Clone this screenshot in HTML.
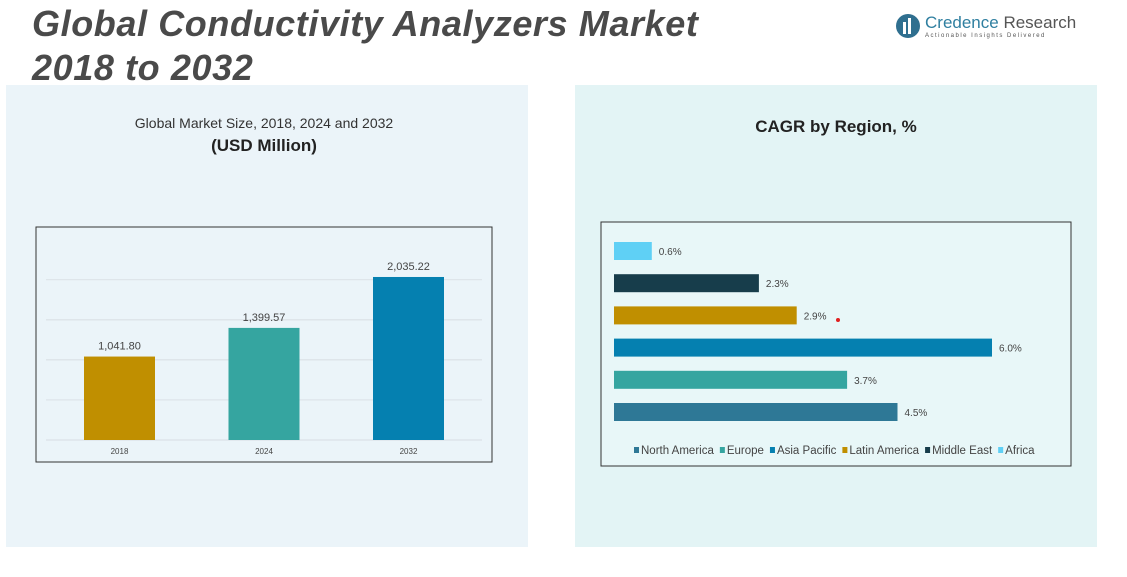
<!DOCTYPE html>
<html><head><meta charset="utf-8"><style>
body{margin:0;width:1127px;height:577px;background:#fff;position:relative;overflow:hidden;font-family:"Liberation Sans",sans-serif}
.abs{position:absolute}
</style></head><body>
<div class="abs" style="left:6px;top:85px;width:522px;height:462px;background:#ebf4f9"></div>
<div class="abs" style="left:575px;top:85px;width:522px;height:462px;background:#e3f4f5"></div>
<div class="abs" style="left:32px;top:2px;font-size:36px;letter-spacing:0.6px;font-weight:bold;font-style:italic;color:#4a4a4a;line-height:44px">Global Conductivity Analyzers Market<br>2018 to 2032</div>
<div class="abs" style="left:895px;top:12px;display:flex;align-items:center">
<svg width="26" height="28"><circle cx="13" cy="14" r="12" fill="#2f6f8f"/><rect x="8" y="10" width="3" height="12" fill="#fff"/><rect x="13" y="6" width="3" height="16" fill="#fff"/></svg>
<div style="margin-left:4px"><div style="font-size:17px;color:#2f7fa0">Credence <span style="color:#555">Research</span></div><div style="font-size:6px;color:#555;letter-spacing:1.5px">Actionable Insights Delivered</div></div></div>
<div class="abs" style="left:36px;top:115px;width:456px;text-align:center;font-size:14px;color:#333">Global Market Size, 2018, 2024 and 2032</div>
<div class="abs" style="left:36px;top:136px;width:456px;text-align:center;font-size:17px;font-weight:bold;color:#222">(USD Million)</div>
<div class="abs" style="left:575px;top:117px;width:522px;text-align:center;font-size:17px;font-weight:bold;color:#222">CAGR by Region, %</div>
<svg class="abs" id="c1" style="left:0;top:0" width="1127" height="577"></svg>
<script>
const years=["2018","2024","2032"];
const sizes=[1041.80,1399.57,2035.22];
const sizeLabels=["1,041.80","1,399.57","2,035.22"];
const barColors=["#c08f00","#35a5a0","#0580b0"];
const regions=["North America","Europe","Asia Pacific","Latin America","Middle East","Africa"];
const cagr=[4.5,3.7,6.0,2.9,2.3,0.6];
const regionColors=["#2e7896","#35a5a0","#0580b0","#c08f00","#173d4b","#5fd0f5"];
const ns="http://www.w3.org/2000/svg";
const svg=document.getElementById('c1');
function mk(t,a,txt){const e=document.createElementNS(ns,t);for(const k in a)e.setAttribute(k,a[k]);if(txt!=null)e.textContent=txt;svg.appendChild(e);return e;}
let e=mk('rect',{x:36,y:227,width:456,height:235,fill:"none",stroke:"#333","stroke-width":1});

const y0=440,ys=v=>y0-v*0.0801;
for(let g=0;g<=2000;g+=500){e=mk('line',{x1:46,x2:482,y1:ys(g),y2:ys(g),stroke:"#d0d6da","stroke-width":0.7});
}
const bx=i=>84+i*144.5;
years.forEach((yr,i)=>{
e=mk('rect',{x:bx(i),y:ys(sizes[i]),width:71,height:y0-ys(sizes[i]),fill:barColors[i]});

e=mk('text',{x:bx(i)+35.5,y:ys(sizes[i])-7,"text-anchor":"middle","font-size":11,fill:"#444"},sizeLabels[i]);

e=mk('text',{x:bx(i)+35.5,y:454,"text-anchor":"middle","font-size":8,fill:"#444"},yr);

});
e=mk('rect',{x:601,y:222,width:470,height:244,fill:"#e8f7f8",stroke:"#333","stroke-width":1});

const xs=v=>614+v*63;
regions.forEach((r,i)=>{
const cy=412-i*32.2;
e=mk('rect',{x:614,y:cy-9,width:xs(cagr[i])-614,height:18,fill:regionColors[i]});

e=mk('text',{x:xs(cagr[i])+7,y:cy+4,"font-size":10,fill:"#444"},cagr[i].toFixed(1)+"%");

});
e=mk('circle',{cx:838,cy:320,r:2,fill:"#e02020"});

let lx=634;
regions.forEach((r,i)=>{
e=mk('rect',{x:lx,y:447,width:5,height:6,fill:regionColors[i]});

const t=mk('text',{x:lx+7,y:454,"font-size":11.5,fill:"#444"},r);

lx+=t.getComputedTextLength()+13;
});
</script>
</body></html>
